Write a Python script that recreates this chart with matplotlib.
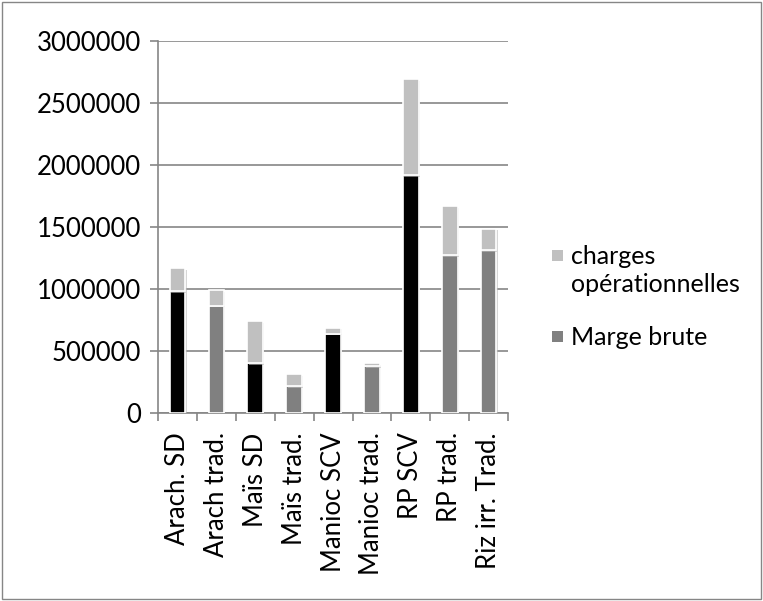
import matplotlib.pyplot as plt
import matplotlib.patheffects as pe
from matplotlib.patches import Rectangle

plt.rcParams["font.family"] = ["Lato", "DejaVu Sans"]

categories = ["Arach. SD", "Arach trad.", "Maïs SD", "Maïs trad.", "Manioc SCV",
              "Manioc trad.", "RP SCV", "RP trad.", "Riz irr. Trad."]
marge_brute = [980000, 865000, 400000, 215000, 640000, 375000, 1915000, 1270000, 1310000]
charges_op = [185000, 125000, 340000, 95000, 45000, 25000, 775000, 395000, 175000]

marge_colors = ["#000000", "#808080", "#000000", "#808080", "#000000",
                "#808080", "#000000", "#808080", "#808080"]
charges_color = "#c0c0c0"
grid_color = "#868686"

W, H = 763, 601
fig = plt.figure(figsize=(W / 100, H / 100), dpi=100)
ax = fig.add_axes([0.207, 0.313, 0.459, 0.619])

x = list(range(len(categories)))
shadow = [pe.SimplePatchShadow(offset=(1, -1), shadow_rgbFace="#bbbbbb", alpha=0.6), pe.Normal()]
b1 = ax.bar(x, marge_brute, width=0.4, color=marge_colors,
            edgecolor="white", linewidth=1.2, zorder=3)
b2 = ax.bar(x, charges_op, width=0.4, bottom=marge_brute, color=charges_color,
            edgecolor="white", linewidth=1.2, zorder=3)
for b in list(b1) + list(b2):
    b.set_path_effects(shadow)

ax.set_xlim(-0.5, len(categories) - 0.5)
ax.set_ylim(0, 3000000)
ax.set_yticks(range(0, 3000001, 500000))
ax.set_yticklabels([str(v) for v in range(0, 3000001, 500000)], fontsize=18.5)
ax.yaxis.grid(True, color=grid_color, linewidth=1.2, zorder=0)
ax.set_axisbelow(True)

ax.set_xticks(x)
ax.set_xticklabels(categories, rotation=90, fontsize=18.5)
ax.tick_params(axis="x", length=0, pad=14)
ax.set_xticks([i + 0.5 for i in range(-1, len(categories))], minor=True)
ax.tick_params(axis="x", which="minor", length=6, color=grid_color, width=1.2)
ax.tick_params(axis="y", length=6, color=grid_color, width=1.2, pad=6)

for s in ["top", "right"]:
    ax.spines[s].set_visible(False)
for s in ["left", "bottom"]:
    ax.spines[s].set_color(grid_color)
    ax.spines[s].set_linewidth(1.2)

# legend drawn by hand so the square sits next to the first line of text
legend_items = [("charges\nopérationnelles", charges_color, 255),
                ("Marge brute", "#808080", 336)]
for label, col, ypix in legend_items:
    fig.patches.append(Rectangle((552 / W, 1 - (ypix + 6) / H), 11 / W, 11 / H,
                                 transform=fig.transFigure, facecolor=col,
                                 edgecolor="none"))
    fig.text(571 / W, 1 - (ypix - 10) / H, label, fontsize=18, va="top", ha="left",
             linespacing=1.25)

fig.patches.append(Rectangle((0.003, 0.003), 0.994, 0.994, transform=fig.transFigure,
                             fill=False, edgecolor="#868686", linewidth=1))

fig.savefig("out.png", dpi=100)
